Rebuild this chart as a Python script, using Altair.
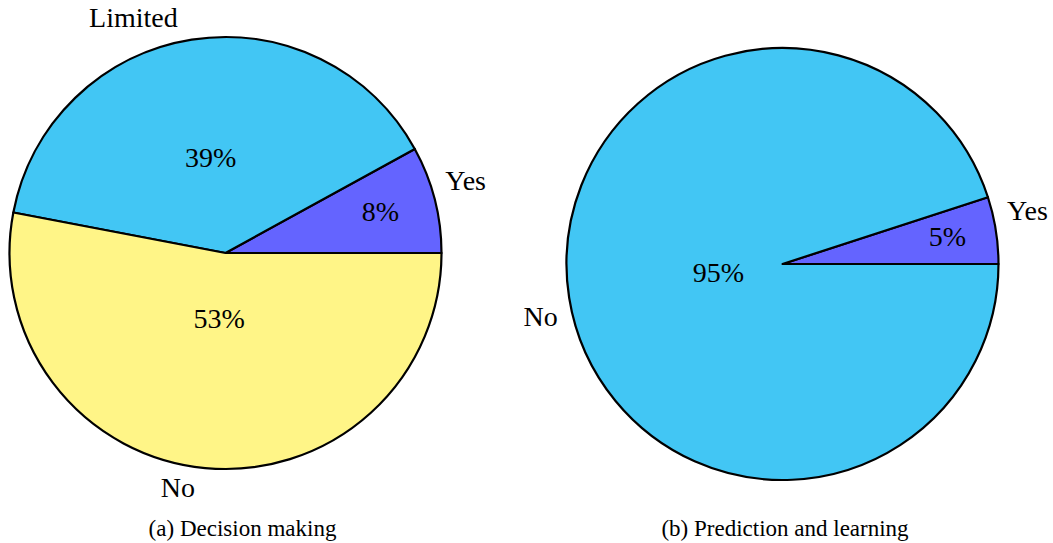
import math

import altair as alt
import pandas as pd

# (a) Decision making
dm_labels = ["Yes", "Limited", "No"]
dm_values = [8, 39, 53]
dm_colors = ["#6464FF", "#42C6F4", "#FFF587"]

# (b) Prediction and learning
pl_labels = ["Yes", "No"]
pl_values = [5, 95]
pl_colors = ["#6464FF", "#42C6F4"]

captions = ["(a) Decision making", "(b) Prediction and learning"]

FONT = "'Liberation Serif', 'Times New Roman', 'DejaVu Serif', serif"
R = 216
# slices start at 3 o'clock and run clockwise
THETA = alt.Scale(domain=[0, 100], range=[math.pi / 2, math.pi / 2 + 2 * math.pi])


def pie(labels, values, colors, cx, cy, pct_place, name_place):
    df = pd.DataFrame({"label": labels, "value": values, "rank": range(len(labels))})
    base = alt.Chart(df).transform_window(
        cum="sum(value)",
        sort=[alt.SortField("rank", order="descending")],
        frame=[None, 0],
    ).transform_calculate(
        mid="datum.cum - datum.value / 2",
        pct="datum.value + '%'",
    )
    layers = [
        base.mark_arc(stroke="black", strokeWidth=2.2, strokeJoin="round").encode(
            theta=alt.Theta("value:Q", stack=True, scale=THETA),
            order=alt.Order("rank:O", sort="descending"),
            color=alt.Color("label:N", scale=alt.Scale(domain=labels, range=colors), legend=None),
            x=alt.value(cx),
            y=alt.value(cy),
            radius=alt.value(R),
        )
    ]
    for lab in labels:
        for field, (r, dx, dy) in (("pct", pct_place[lab]), ("label", name_place[lab])):
            layers.append(
                base.transform_filter(alt.datum.label == lab)
                .mark_text(font=FONT, fontSize=28, color="black", align="center",
                           baseline="middle", dx=dx, dy=dy)
                .encode(
                    theta=alt.Theta("mid:Q", stack=None, scale=THETA),
                    radius=alt.value(r),
                    text=alt.Text(f"{field}:N"),
                    x=alt.value(cx),
                    y=alt.value(cy),
                )
            )
    return layers


left = pie(
    dm_labels, dm_values, dm_colors, 225.5, 253,
    pct_place={"Yes": (160, 0, 0), "Limited": (95, 0, 0), "No": (67, 0, 0)},
    name_place={"Yes": (250, -2, -9), "Limited": (250, -53, 13), "No": (241, -25, -4)},
)
right = pie(
    pl_labels, pl_values, pl_colors, 782.5, 264,
    pct_place={"Yes": (167, 0, 0), "No": (65, 0, 0)},
    name_place={"Yes": (250, -2, -13), "No": (250, 5, 15)},
)

caption_layers = [
    alt.Chart(pd.DataFrame({"caption": [text]}))
    .mark_text(font=FONT, fontSize=23, color="black", align="center", baseline="middle")
    .encode(text="caption:N", x=alt.value(x), y=alt.value(529))
    for text, x in zip(captions, [242.5, 785])
]

chart = (
    alt.layer(*left, *right, *caption_layers)
    .resolve_scale(color="independent")
    .properties(width=1053, height=543, autosize="none", padding=0)
    .configure_view(stroke=None)
)

chart.save("out.html", embed_options={"renderer": "svg", "actions": False})
